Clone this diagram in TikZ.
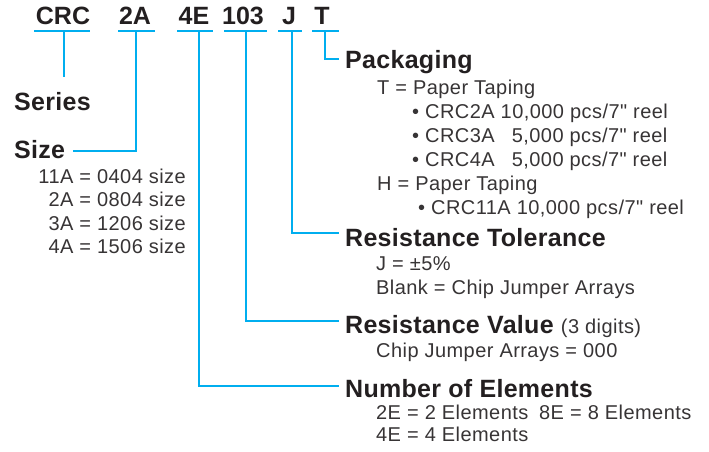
\documentclass[tikz,border=0pt]{standalone}
\usepackage{fontspec}
\setmainfont{Liberation Sans}
\newfontfamily\bodyfont[LetterSpace=2.2,Ligatures=TeXOff]{Liberation Sans}
\newfontfamily\headfont[LetterSpace=1.2]{Liberation Sans}
\definecolor{cy}{RGB}{0,174,239}
\definecolor{txt}{RGB}{35,31,32}
\definecolor{txtb}{RGB}{55,52,53}
\tikzset{
  hd/.style={font=\headfont\fontsize{25}{30}\selectfont\bfseries, text=txt, inner sep=0pt, anchor=base west},
  bd/.style={font=\bodyfont\fontsize{20}{24}\selectfont, text=txtb, inner sep=0pt, anchor=base west},
  bdr/.style={bd, anchor=base east},
  code/.style={font=\fontsize{25}{30}\selectfont\bfseries, text=txt, inner sep=0pt, anchor=base},
  ln/.style={draw=cy, line width=2.3pt},
}
\begin{document}
\begin{tikzpicture}[x=1pt,y=-1pt]
\useasboundingbox (0,0) rectangle (709,452);
% part-number codes
\node[code] (cCRC) at (63,25) {CRC};
\node[code] (c2A) at (135,25) {2A};
\node[code] (c4E) at (194,25) {4E};
\node[code] (c103) at (243,25) {103};
\node[code] (cJ) at (289,25) {J};
\node[code] (cT) at (322,25) {T};
% underlines
\draw[ln] (34,31) -- (90,31);
\draw[ln] (118,31) -- (155,31);
\draw[ln] (177,31) -- (213,31);
\draw[ln] (224,31) -- (267,31);
\draw[ln] (278,31) -- (302,31);
\draw[ln] (312,31) -- (339,31);
% junction points on underlines
\coordinate (uCRC) at (64,31);
\coordinate (u2A) at (136,31);
\coordinate (u4E) at (199,31);
\coordinate (u103) at (246,31);
\coordinate (uJ) at (292,31);
\coordinate (uT) at (325,31);
% left headings
\node[hd] (series) at (14,110) {Series};
\node[hd] (size) at (14,158) {Size};
\coordinate (seriesTop) at (64,77);
\coordinate (sizeEnd) at (73,151);
\node[bdr] (s1) at (186,183) {11A = 0404 size};
\node[bdr] (s2) at (186,206) {2A = 0804 size};
\node[bdr] (s3) at (186,230) {3A = 1206 size};
\node[bdr] (s4) at (186,253) {4A = 1506 size};
% right headings
\node[hd] (pack) at (345,68) {Packaging};
\coordinate (packEnd) at (339,59);
\node[bd] (p1) at (377,94) {T = Paper Taping};
\node[bd] (p2) at (412,118) {\textbullet\ CRC2A 10,000 pcs/7" reel};
\node[bd] (p3) at (412,142) {\textbullet\ CRC3A \hphantom{1}5,000 pcs/7" reel};
\node[bd] (p4) at (412,166) {\textbullet\ CRC4A \hphantom{1}5,000 pcs/7" reel};
\node[bd] (p5) at (377,190) {H = Paper Taping};
\node[bd] (p6) at (418,214) {\textbullet\ CRC11A 10,000 pcs/7" reel};

\node[hd] (tol) at (345,246) {Resistance Tolerance};
\coordinate (tolEnd) at (339,233);
\node[bd] (t1) at (376,270) {J = \textpm5\%};
\node[bd] (t2) at (376,294) {Blank = Chip Jumper Arrays};

\node[hd] (val) at (345,333) {Resistance Value {\bodyfont\mdseries\fontsize{20}{24}\selectfont\color{txtb} (3 digits)}};
\coordinate (valEnd) at (339,321);
\node[bd] (v1) at (376,357) {Chip Jumper Arrays = 000};

\node[hd] (elem) at (345,397) {Number of Elements};
\coordinate (elemEnd) at (339,386);
\node[bd] (e1) at (376,419) {2E = 2 Elements};
\node[bd] (e2) at (539,419) {8E = 8 Elements};
\node[bd] (e3) at (376,441) {4E = 4 Elements};

% connectors
\draw[ln] (uCRC) -- (seriesTop);
\draw[ln] (sizeEnd) -| (u2A);
\draw[ln] (uT) |- (packEnd);
\draw[ln] (uJ) |- (tolEnd);
\draw[ln] (u103) |- (valEnd);
\draw[ln] (u4E) |- (elemEnd);
\end{tikzpicture}
\end{document}
